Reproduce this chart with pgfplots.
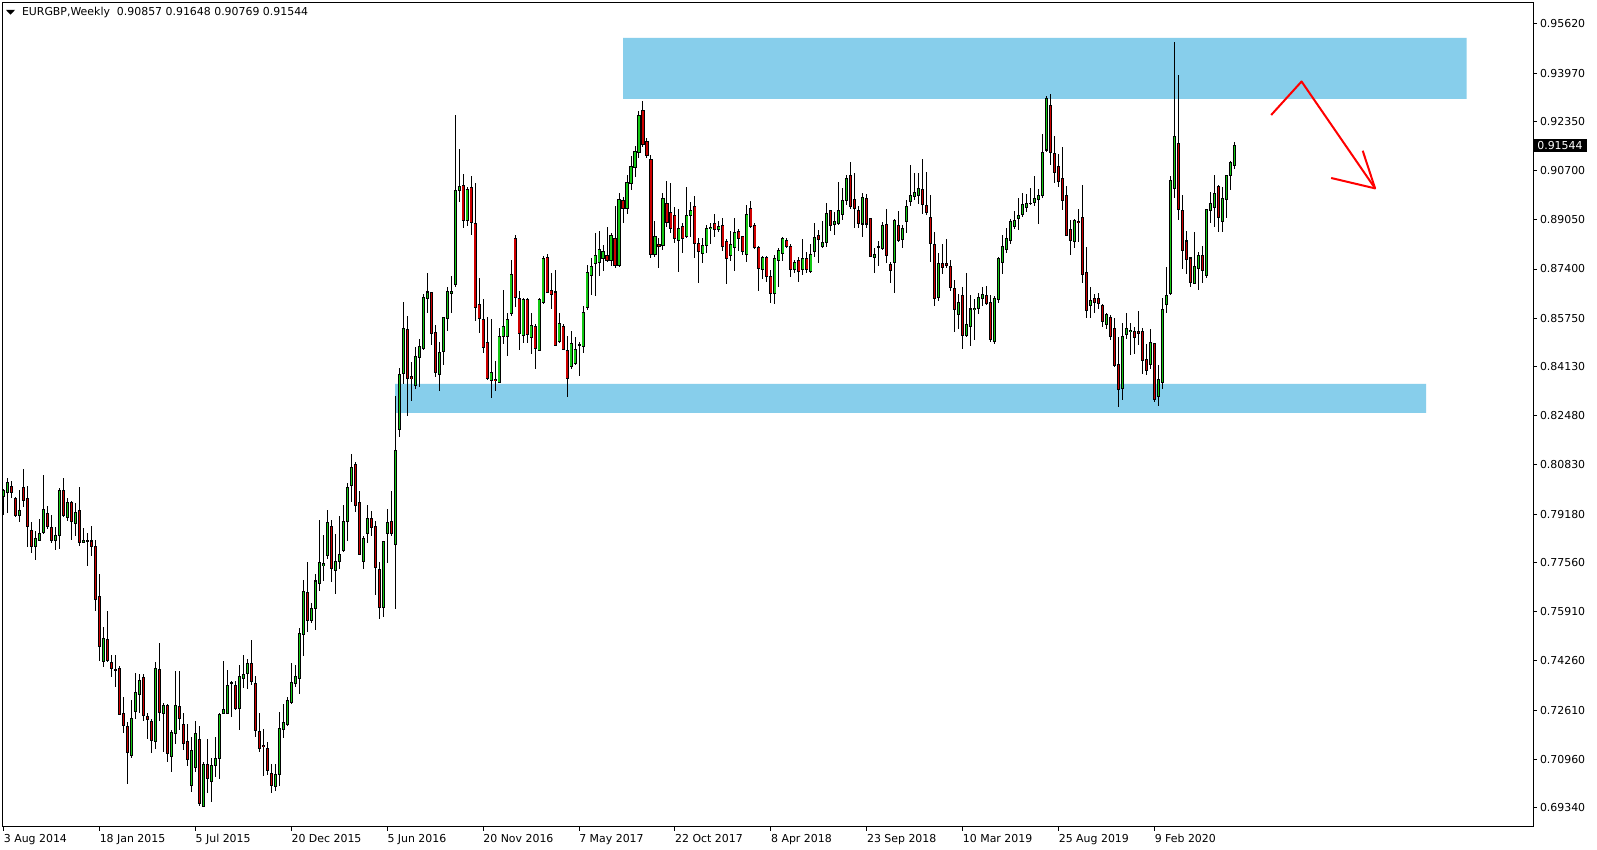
\documentclass[border=0pt]{standalone}
\usepackage{pgfplots}
\pgfplotsset{compat=1.18}
\usepackage{pgfplotstable}
\usepackage{fontspec}
\setmainfont{DejaVu Sans}
\definecolor{bull}{RGB}{20,200,20}
\definecolor{bear}{RGB}{205,0,0}
\definecolor{zone}{RGB}{135,206,235}
\pgfplotstableread{
w o h l c
0 0.7977 0.8001 0.7915 0.7996
1 0.7990 0.8038 0.7921 0.8025
2 0.8012 0.8029 0.7971 0.7990
3 0.7971 0.7977 0.7910 0.7913
4 0.7913 0.7999 0.7893 0.7932
5 0.8008 0.8070 0.7943 0.7963
6 0.7971 0.8012 0.7809 0.7876
7 0.7862 0.7893 0.7787 0.7809
8 0.7809 0.7862 0.7764 0.7835
9 0.7831 0.7902 0.7829 0.7854
10 0.7856 0.8049 0.7852 0.7932
11 0.7921 0.7945 0.7868 0.7876
12 0.7874 0.7915 0.7822 0.7829
13 0.7829 0.7876 0.7798 0.7848
14 0.7846 0.8005 0.7801 0.7996
15 0.7996 0.8040 0.7908 0.7913
16 0.7906 0.7973 0.7896 0.7958
17 0.7958 0.7963 0.7831 0.7893
18 0.7887 0.7957 0.7845 0.7925
19 0.7932 0.8010 0.7812 0.7822
20 0.7824 0.7873 0.7820 0.7831
21 0.7831 0.7856 0.7744 0.7828
22 0.7828 0.7878 0.7778 0.7809
23 0.7811 0.7831 0.7594 0.7632
24 0.7641 0.7717 0.7427 0.7474
25 0.7423 0.7541 0.7407 0.7502
26 0.7499 0.7593 0.7421 0.7429
27 0.7421 0.7446 0.7373 0.7399
28 0.7396 0.7446 0.7340 0.7393
29 0.7401 0.7409 0.7245 0.7248
30 0.7250 0.7304 0.7183 0.7209
31 0.7205 0.7222 0.7015 0.7118
32 0.7110 0.7295 0.7099 0.7233
33 0.7256 0.7384 0.7230 0.7321
34 0.7314 0.7382 0.7250 0.7359
35 0.7371 0.7382 0.7225 0.7242
36 0.7241 0.7250 0.7165 0.7230
37 0.7224 0.7230 0.7118 0.7159
38 0.7155 0.7422 0.7131 0.7401
39 0.7396 0.7487 0.7225 0.7253
40 0.7249 0.7286 0.7122 0.7277
41 0.7275 0.7280 0.7086 0.7114
42 0.7105 0.7194 0.7055 0.7186
43 0.7183 0.7391 0.7146 0.7277
44 0.7274 0.7392 0.7194 0.7233
45 0.7214 0.7250 0.7127 0.7150
46 0.7156 0.7213 0.7074 0.7096
47 0.7009 0.7172 0.6988 0.7127
48 0.7069 0.7225 0.7055 0.7183
49 0.7161 0.7208 0.6939 0.6948
50 0.6939 0.7088 0.6937 0.7080
51 0.7079 0.7165 0.6984 0.7032
52 0.7023 0.7099 0.6953 0.7077
53 0.7075 0.7172 0.7038 0.7099
54 0.7099 0.7250 0.7029 0.7245
55 0.7249 0.7427 0.7247 0.7264
56 0.7250 0.7396 0.7247 0.7344
57 0.7351 0.7360 0.7239 0.7354
58 0.7343 0.7360 0.7261 0.7266
59 0.7266 0.7411 0.7194 0.7375
60 0.7366 0.7446 0.7336 0.7381
61 0.7383 0.7432 0.7332 0.7416
62 0.7418 0.7496 0.7345 0.7356
63 0.7351 0.7375 0.7172 0.7192
64 0.7191 0.7250 0.7122 0.7132
65 0.7144 0.7197 0.7040 0.7140
66 0.7133 0.7155 0.7043 0.7058
67 0.7049 0.7080 0.6982 0.7008
68 0.7004 0.7082 0.6991 0.7046
69 0.7046 0.7253 0.7007 0.7200
70 0.7196 0.7281 0.7166 0.7220
71 0.7213 0.7306 0.7209 0.7292
72 0.7287 0.7418 0.7281 0.7354
73 0.7351 0.7411 0.7340 0.7375
74 0.7368 0.7535 0.7314 0.7518
75 0.7516 0.7697 0.7442 0.7660
76 0.7656 0.7759 0.7524 0.7561
77 0.7561 0.7620 0.7552 0.7602
78 0.7601 0.7717 0.7530 0.7694
79 0.7686 0.7898 0.7661 0.7757
80 0.7745 0.7848 0.7695 0.7753
81 0.7779 0.7932 0.7768 0.7891
82 0.7878 0.7898 0.7692 0.7735
83 0.7730 0.7852 0.7651 0.7761
84 0.7759 0.7913 0.7735 0.7784
85 0.7796 0.7949 0.7790 0.7895
86 0.7893 0.8024 0.7828 0.8009
87 0.8014 0.8120 0.7960 0.8073
88 0.8083 0.8093 0.7926 0.7946
89 0.7958 0.7996 0.7781 0.7784
90 0.7760 0.7845 0.7735 0.7837
91 0.7854 0.7949 0.7823 0.7904
92 0.7902 0.7929 0.7845 0.7873
93 0.7875 0.7895 0.7648 0.7740
94 0.7734 0.7759 0.7565 0.7604
95 0.7604 0.7825 0.7574 0.7825
96 0.7854 0.7935 0.7753 0.7891
97 0.7895 0.7996 0.7845 0.7854
98 0.7817 0.8315 0.7599 0.8130
99 0.8202 0.8408 0.8178 0.8385
100 0.8390 0.8631 0.8353 0.8539
101 0.8536 0.8582 0.8248 0.8373
102 0.8378 0.8428 0.8299 0.8372
103 0.8349 0.8480 0.8337 0.8448
104 0.8444 0.8506 0.8343 0.8480
105 0.8473 0.8657 0.8470 0.8646
106 0.8641 0.8728 0.8591 0.8663
107 0.8660 0.8663 0.8485 0.8523
108 0.8528 0.8552 0.8377 0.8392
109 0.8387 0.8494 0.8332 0.8461
110 0.8463 0.8579 0.8418 0.8576
111 0.8575 0.8681 0.8533 0.8663
112 0.8657 0.8717 0.8591 0.8666
113 0.8689 0.9256 0.8679 0.9002
114 0.9003 0.9142 0.8966 0.9015
115 0.9021 0.9059 0.8879 0.8902
116 0.8902 0.9014 0.8885 0.9008
117 0.9014 0.9052 0.8855 0.8895
118 0.8891 0.9028 0.8567 0.8610
119 0.8621 0.8710 0.8527 0.8573
120 0.8572 0.8639 0.8460 0.8476
121 0.8494 0.8579 0.8368 0.8372
122 0.8366 0.8573 0.8306 0.8394
123 0.8371 0.8433 0.8332 0.8366
124 0.8359 0.8542 0.8357 0.8515
125 0.8513 0.8670 0.8489 0.8548
126 0.8515 0.8592 0.8449 0.8571
127 0.8590 0.8770 0.8584 0.8723
128 0.8843 0.8854 0.8611 0.8644
129 0.8642 0.8666 0.8468 0.8523
130 0.8516 0.8644 0.8491 0.8639
131 0.8639 0.8644 0.8493 0.8521
132 0.8510 0.8592 0.8456 0.8551
133 0.8548 0.8555 0.8404 0.8473
134 0.8467 0.8642 0.8466 0.8639
135 0.8627 0.8785 0.8624 0.8774
136 0.8779 0.8790 0.8658 0.8661
137 0.8668 0.8728 0.8605 0.8654
138 0.8663 0.8737 0.8482 0.8485
139 0.8496 0.8592 0.8493 0.8558
140 0.8548 0.8556 0.8468 0.8470
141 0.8467 0.8515 0.8312 0.8372
142 0.8413 0.8532 0.8405 0.8491
143 0.8422 0.8511 0.8417 0.8471
144 0.8484 0.8494 0.8382 0.8486
145 0.8480 0.8616 0.8457 0.8595
146 0.8610 0.8753 0.8603 0.8729
147 0.8718 0.8778 0.8654 0.8749
148 0.8759 0.8861 0.8651 0.8786
149 0.8762 0.8867 0.8718 0.8806
150 0.8775 0.8819 0.8734 0.8799
151 0.8786 0.8882 0.8765 0.8768
152 0.8768 0.8860 0.8749 0.8851
153 0.8843 0.8951 0.8742 0.8751
154 0.8751 0.8995 0.8746 0.8974
155 0.8970 0.8980 0.8893 0.8943
156 0.8943 0.9054 0.8923 0.9031
157 0.9027 0.9119 0.9005 0.9084
158 0.9081 0.9152 0.9050 0.9135
159 0.9131 0.9270 0.9111 0.9256
160 0.9270 0.9305 0.9150 0.9156
161 0.9169 0.9180 0.9111 0.9122
162 0.9108 0.9122 0.8776 0.8789
163 0.8789 0.8901 0.8779 0.8848
164 0.8823 0.8843 0.8745 0.8815
165 0.8818 0.8996 0.8804 0.8977
166 0.8960 0.9035 0.8882 0.8895
167 0.8930 0.9027 0.8860 0.8876
168 0.8920 0.8949 0.8826 0.8842
169 0.8837 0.8941 0.8731 0.8876
170 0.8884 0.8893 0.8793 0.8843
171 0.8848 0.9015 0.8843 0.8920
172 0.8919 0.8965 0.8848 0.8937
173 0.8950 0.8985 0.8776 0.8826
174 0.8826 0.8843 0.8692 0.8798
175 0.8793 0.8843 0.8759 0.8819
176 0.8819 0.8889 0.8793 0.8876
177 0.8875 0.8893 0.8824 0.8880
178 0.8893 0.8924 0.8848 0.8871
179 0.8873 0.8901 0.8865 0.8884
180 0.8886 0.8911 0.8800 0.8815
181 0.8831 0.8840 0.8689 0.8776
182 0.8786 0.8869 0.8768 0.8823
183 0.8813 0.8910 0.8733 0.8862
184 0.8865 0.8874 0.8800 0.8841
185 0.8850 0.8852 0.8787 0.8800
186 0.8789 0.8955 0.8765 0.8924
187 0.8943 0.8968 0.8876 0.8884
188 0.8886 0.8893 0.8806 0.8812
189 0.8813 0.8817 0.8667 0.8742
190 0.8737 0.8784 0.8705 0.8779
191 0.8779 0.8784 0.8698 0.8714
192 0.8715 0.8737 0.8627 0.8659
193 0.8659 0.8787 0.8623 0.8776
194 0.8768 0.8809 0.8681 0.8803
195 0.8793 0.8846 0.8768 0.8841
196 0.8837 0.8843 0.8809 0.8815
197 0.8815 0.8823 0.8712 0.8739
198 0.8739 0.8770 0.8726 0.8762
199 0.8770 0.8779 0.8698 0.8733
200 0.8739 0.8841 0.8720 0.8776
201 0.8776 0.8796 0.8726 0.8737
202 0.8731 0.8823 0.8726 0.8789
203 0.8798 0.8893 0.8781 0.8846
204 0.8853 0.8871 0.8761 0.8840
205 0.8815 0.8902 0.8812 0.8829
206 0.8829 0.8960 0.8815 0.8927
207 0.8935 0.8938 0.8869 0.8885
208 0.8890 0.8930 0.8854 0.8898
209 0.8893 0.9031 0.8889 0.8937
210 0.8923 0.9013 0.8904 0.8971
211 0.8971 0.9055 0.8955 0.9044
212 0.9052 0.9098 0.8941 0.8949
213 0.8974 0.9061 0.8876 0.8943
214 0.8935 0.8951 0.8876 0.8893
215 0.8891 0.8996 0.8848 0.8980
216 0.8977 0.8990 0.8876 0.8891
217 0.8908 0.8910 0.8779 0.8781
218 0.8779 0.8812 0.8726 0.8789
219 0.8812 0.8835 0.8750 0.8815
220 0.8809 0.8898 0.8804 0.8886
221 0.8888 0.8940 0.8759 0.8784
222 0.8754 0.8762 0.8692 0.8734
223 0.8762 0.8908 0.8659 0.8901
224 0.8885 0.8935 0.8832 0.8835
225 0.8840 0.8888 0.8812 0.8876
226 0.8900 0.8970 0.8862 0.8951
227 0.8966 0.9089 0.8952 0.8985
228 0.8983 0.9063 0.8972 0.8997
229 0.8986 0.9061 0.8958 0.9011
230 0.9008 0.9108 0.8924 0.8957
231 0.8954 0.9065 0.8921 0.8929
232 0.8914 0.8987 0.8765 0.8825
233 0.8821 0.8863 0.8616 0.8640
234 0.8644 0.8793 0.8633 0.8759
235 0.8757 0.8824 0.8722 0.8746
236 0.8760 0.8841 0.8742 0.8753
237 0.8749 0.8769 0.8667 0.8677
238 0.8675 0.8703 0.8530 0.8605
239 0.8587 0.8655 0.8538 0.8628
240 0.8650 0.8680 0.8473 0.8517
241 0.8517 0.8727 0.8511 0.8555
242 0.8547 0.8653 0.8483 0.8606
243 0.8605 0.8639 0.8503 0.8609
244 0.8606 0.8658 0.8589 0.8645
245 0.8640 0.8681 0.8617 0.8655
246 0.8650 0.8683 0.8618 0.8623
247 0.8628 0.8653 0.8496 0.8503
248 0.8496 0.8650 0.8489 0.8640
249 0.8637 0.8781 0.8625 0.8774
250 0.8761 0.8854 0.8723 0.8817
251 0.8804 0.8878 0.8793 0.8843
252 0.8835 0.8907 0.8824 0.8898
253 0.8882 0.8934 0.8873 0.8904
254 0.8910 0.8979 0.8871 0.8921
255 0.8922 0.8994 0.8916 0.8955
256 0.8946 0.8990 0.8932 0.8960
257 0.8959 0.9013 0.8955 0.8961
258 0.8964 0.9052 0.8952 0.8975
259 0.8974 0.9009 0.8891 0.8988
260 0.8988 0.9193 0.8977 0.9132
261 0.9139 0.9320 0.9133 0.9312
262 0.9287 0.9327 0.9089 0.9130
263 0.9129 0.9186 0.9030 0.9063
264 0.9085 0.9126 0.9016 0.9033
265 0.9042 0.9150 0.8938 0.8969
266 0.8985 0.9018 0.8854 0.8854
267 0.8873 0.8904 0.8788 0.8835
268 0.8832 0.8908 0.8809 0.8904
269 0.8900 0.8941 0.8832 0.8895
270 0.8914 0.9022 0.8694 0.8722
271 0.8729 0.8815 0.8577 0.8600
272 0.8616 0.8681 0.8577 0.8636
273 0.8640 0.8655 0.8594 0.8627
274 0.8640 0.8661 0.8605 0.8625
275 0.8616 0.8623 0.8547 0.8563
276 0.8555 0.8591 0.8538 0.8586
277 0.8577 0.8586 0.8502 0.8513
278 0.8539 0.8577 0.8413 0.8418
279 0.8421 0.8513 0.8278 0.8337
280 0.8340 0.8560 0.8301 0.8515
281 0.8521 0.8591 0.8507 0.8541
282 0.8530 0.8558 0.8452 0.8534
283 0.8530 0.8544 0.8455 0.8511
284 0.8532 0.8599 0.8485 0.8524
285 0.8532 0.8543 0.8387 0.8433
286 0.8437 0.8487 0.8385 0.8400
287 0.8420 0.8539 0.8405 0.8494
288 0.8489 0.8491 0.8295 0.8301
289 0.8312 0.8418 0.8282 0.8371
290 0.8360 0.8644 0.8338 0.8603
291 0.8622 0.8746 0.8594 0.8652
292 0.8658 0.9053 0.8653 0.9037
293 0.9011 0.9501 0.8979 0.9186
294 0.9161 0.9391 0.8904 0.8938
295 0.8937 0.8988 0.8740 0.8802
296 0.8834 0.8867 0.8722 0.8773
297 0.8777 0.8779 0.8681 0.8694
298 0.8692 0.8865 0.8690 0.8750
299 0.8741 0.8798 0.8670 0.8787
300 0.8784 0.8817 0.8692 0.8734
301 0.8718 0.8941 0.8709 0.8938
302 0.8936 0.8999 0.8895 0.8960
303 0.8947 0.9055 0.8882 0.8992
304 0.9016 0.9021 0.8865 0.8913
305 0.8901 0.9016 0.8865 0.8977
306 0.8974 0.9055 0.8912 0.9052
307 0.9053 0.9102 0.9004 0.9097
308 0.90857 0.91648 0.90769 0.91544
}\candles
\begin{document}
\begin{tikzpicture}
\path[use as bounding box, fill=white] (0pt,0pt) rectangle (1197.75pt,637.5pt);
\begin{axis}[
 at={(1.875pt,17.25pt)}, anchor=south west,
 scale only axis, width=1147.9pt, height=618pt,
 xmin=-0.275, xmax=382.73, ymin=0.68691, ymax=0.96319,
 axis line style={black, line width=0.75pt},
 tick align=outside, major tick length=3pt,
 tick style={black, line width=0.75pt},
 xtick pos=bottom, ytick pos=right, yticklabel pos=right,
 xtick={0,24,48,72,96,120,144,168,192,216,240,264,288},
 xticklabels={3 Aug 2014,18 Jan 2015,5 Jul 2015,20 Dec 2015,5 Jun 2016,20 Nov 2016,7 May 2017,22 Oct 2017,8 Apr 2018,23 Sep 2018,10 Mar 2019,25 Aug 2019,9 Feb 2020},
 ytick={0.95620,0.93970,0.92350,0.90700,0.89050,0.87400,0.85750,0.84130,0.82480,0.80830,0.79180,0.77560,0.75910,0.74260,0.72610,0.70960,0.69340},
 yticklabels={0.95620,0.93970,0.92350,0.90700,0.89050,0.87400,0.85750,0.84130,0.82480,0.80830,0.79180,0.77560,0.75910,0.74260,0.72610,0.70960,0.69340},
 every tick label/.append style={font=\fontsize{8.2}{10}\selectfont, text=black},
 xticklabel style={anchor=north west, inner sep=0pt, yshift=-2pt},
 yticklabel style={anchor=west, inner sep=0pt, xshift=2pt},
 extra y ticks={0.91544}, extra y tick labels={0.91544},
 extra y tick style={major tick length=0pt, yticklabel style={fill=black, text=white, inner xsep=3pt, inner ysep=1.6pt, xshift=-2pt}},
 candle/.style={only marks, mark=*, mark size=0pt,
   mark options={draw=none, fill=none, draw opacity=0, fill opacity=0},
   error bars/y dir=both, error bars/y explicit, error bars/error mark=none},
]
% zones
\addplot[fill=zone, draw=none] coordinates {(155.0,0.93100) (366.1,0.93100) (366.1,0.95146) (155.0,0.95146) (155.0,0.93100)};
\addplot[fill=zone, draw=none] coordinates {(97.95,0.82572) (356.0,0.82572) (356.0,0.83545) (97.95,0.83545) (97.95,0.82572)};
% wicks
\addplot[candle, error bars/error bar style={draw=black, line width=0.75pt}]
  table[x=w, y expr={(\thisrow{h}+\thisrow{l})/2}, y error expr={(\thisrow{h}-\thisrow{l})/2}] {\candles};
% body outline
\addplot[candle, error bars/error bar style={draw=black, line width=2.3pt}]
  table[x=w, y expr={(\thisrow{o}+\thisrow{c})/2}, y error expr={abs(\thisrow{c}-\thisrow{o})/2+0.00017}] {\candles};
% bull fill
\addplot[candle, error bars/error bar style={draw=bull, line width=1.0pt}]
  table[x=w, y expr={(\thisrow{o}+\thisrow{c})/2}, y error expr={max((\thisrow{c}-\thisrow{o})/2-0.00017,0)}] {\candles};
% bear fill
\addplot[candle, error bars/error bar style={draw=bear, line width=1.0pt}]
  table[x=w, y expr={(\thisrow{o}+\thisrow{c})/2}, y error expr={max((\thisrow{o}-\thisrow{c})/2-0.00017,0)}] {\candles};
% arrow
\addplot[draw=red, line width=1.5pt, line join=round] coordinates {(317.2,0.92564) (324.8,0.93687) (343.2,0.90103)};
\addplot[draw=red, line width=1.5pt, line join=round] coordinates {(332.2,0.90452) (343.2,0.90103) (340.1,0.91367)};
\end{axis}
\fill[black] (4.5pt,630pt) -- (11.25pt,630pt) -- (7.875pt,626.6pt) -- cycle;
\node[anchor=base west, inner sep=0pt, font=\fontsize{8.2}{10}\selectfont] at (16.3pt,625.5pt) {EURGBP,Weekly\ \ 0.90857 0.91648 0.90769 0.91544};
\end{tikzpicture}
\end{document}
